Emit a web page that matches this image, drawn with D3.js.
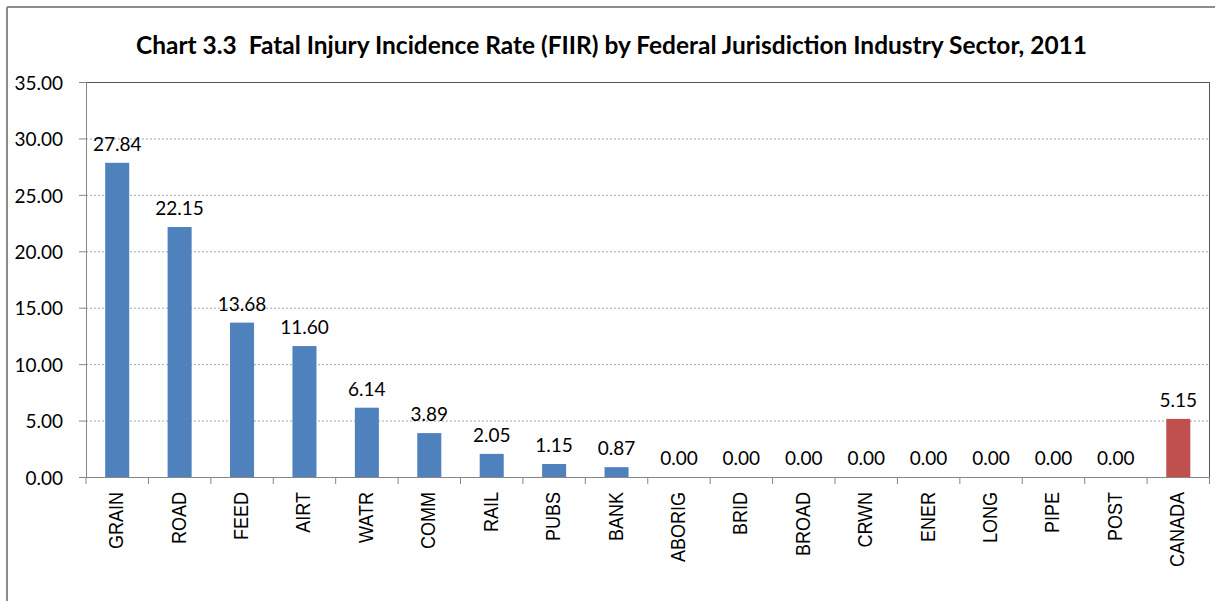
<!DOCTYPE html>
<html><head><meta charset="utf-8">
<script src="https://cdn.jsdelivr.net/npm/d3@7"></script>
<style>
html,body{margin:0;padding:0;background:#fff;}
svg{display:block;}
</style></head>
<body>
<svg id="chart" width="1215" height="601"></svg>
<script>
const titleText = "Chart 3.3  Fatal Injury Incidence Rate (FIIR) by Federal Jurisdiction Industry Sector, 2011";
const categories = ["GRAIN","ROAD","FEED","AIRT","WATR","COMM","RAIL","PUBS","BANK","ABORIG","BRID","BROAD","CRWN","ENER","LONG","PIPE","POST","CANADA"];
const values = [27.84,22.15,13.68,11.60,6.14,3.89,2.05,1.15,0.87,0.00,0.00,0.00,0.00,0.00,0.00,0.00,0.00,5.15];
const yTicks = [0,5,10,15,20,25,30,35];
const highlightCategory = "CANADA";

const svg = d3.select("#chart");
const W = 1215, H = 601;
const m = {left: 86, right: 1209.5, top: 82, bottom: 477};

// outer frame (left and top edges visible)
svg.append("line").attr("x1",7).attr("x2",7).attr("y1",7).attr("y2",H).attr("stroke","#8c8c8c").attr("stroke-width",2);
svg.append("line").attr("x1",7).attr("x2",W).attr("y1",7).attr("y2",7).attr("stroke","#8c8c8c").attr("stroke-width",2);

const x = d3.scaleBand().domain(categories).range([m.left, m.right]).paddingInner(0.615).paddingOuter(0.3075);
const xStep = (m.right - m.left) / categories.length;
const y = d3.scaleLinear().domain([0,35]).range([m.bottom, m.top]);

// title
svg.append("text")
  .attr("x", 136).attr("y", 54)
  .attr("font-family","Lato, 'Open Sans', sans-serif")
  .attr("font-weight","bold")
  .attr("font-size",25)
  .attr("fill","#000")
  .attr("textLength", 951)
  .attr("lengthAdjust","spacingAndGlyphs")
  .style("white-space","pre")
  .text(titleText);

// gridlines
svg.append("g").selectAll("line").data(yTicks.filter(t => t > 0 && t < 35)).join("line")
  .attr("x1", m.left).attr("x2", m.right)
  .attr("y1", d => y(d)+0.5).attr("y2", d => y(d)+0.5)
  .attr("stroke","#a6a6a6").attr("stroke-width",1).attr("stroke-dasharray","2,2");

// plot area border (top and right)
svg.append("line").attr("x1",m.left).attr("x2",m.right).attr("y1",m.top+0.5).attr("y2",m.top+0.5).attr("stroke","#555").attr("stroke-width",1);
svg.append("line").attr("x1",m.right).attr("x2",m.right).attr("y1",m.top).attr("y2",m.bottom).attr("stroke","#555").attr("stroke-width",1);

// bars
svg.append("g").selectAll("rect").data(categories).join("rect")
  .attr("x", d => x(d))
  .attr("width", x.bandwidth())
  .attr("y", (d,i) => y(values[i]))
  .attr("height", (d,i) => y(0) - y(values[i]))
  .attr("fill", d => d === highlightCategory ? "#C0504D" : "#4F81BD");

// y axis
const yAxis = d3.axisLeft(y).tickValues(yTicks).tickFormat(d3.format(".2f")).tickSize(7).tickPadding(16);
const gy = svg.append("g").attr("transform", `translate(${m.left},0)`).call(yAxis);
gy.select(".domain").attr("stroke","#868686");
gy.selectAll(".tick line").attr("stroke","#868686");
gy.selectAll(".tick text")
  .attr("font-family","Lato, sans-serif").attr("font-size",19).attr("fill","#000")
  .attr("dy","0.38em");

// x axis line and ticks at band boundaries
const gx = svg.append("g");
gx.append("line").attr("x1",m.left-7).attr("x2",m.right).attr("y1",m.bottom+0.5).attr("y2",m.bottom+0.5).attr("stroke","#868686");
gx.selectAll("line.xt").data(d3.range(categories.length+1)).join("line").attr("class","xt")
  .attr("x1", i => m.left + i*xStep).attr("x2", i => m.left + i*xStep)
  .attr("y1", m.bottom).attr("y2", m.bottom+7).attr("stroke","#868686");

// x labels (rotated)
gx.selectAll("text").data(categories).join("text")
  .attr("transform", d => `translate(${x(d)+x.bandwidth()/2 + 6},${m.bottom+15}) scale(1.15,1) rotate(-90)`)
  .attr("text-anchor","end")
  .attr("font-family","'Liberation Sans', Arial, sans-serif")
  .attr("font-size",18)
  .attr("fill","#000")
  .text(d => d);

// value labels
svg.append("g").selectAll("text").data(categories).join("text")
  .attr("x", d => x(d) + x.bandwidth()/2)
  .attr("y", (d,i) => y(values[i]) - 12)
  .attr("text-anchor","middle")
  .attr("font-family","Lato, sans-serif").attr("font-size",19).attr("fill","#000")
  .text((d,i) => values[i].toFixed(2));
</script>
</body></html>
